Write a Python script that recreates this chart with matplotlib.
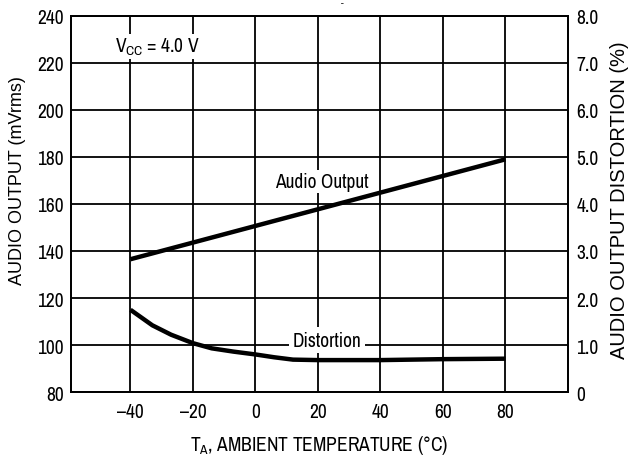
import matplotlib
matplotlib.use("Agg")
import matplotlib.pyplot as plt

FONT = ['Archivo Narrow', 'DejaVu Sans']
plt.rcParams['font.family'] = FONT
plt.rcParams['mathtext.fontset'] = 'custom'
plt.rcParams['mathtext.rm'] = 'Archivo Narrow'
plt.rcParams['mathtext.it'] = 'Archivo Narrow'
plt.rcParams['mathtext.default'] = 'rm'
LABEL_FONT = ['Liberation Sans', 'DejaVu Sans']

# Data
temp_audio = [-40, 80]
audio_output = [136.5, 179.0]          # mVrms
temp_dist = [-40, -33, -27, -20, -14, -7, 0, 6, 12, 20, 40, 60, 80]
distortion = [1.75, 1.42, 1.22, 1.04, 0.93, 0.86, 0.80, 0.74, 0.69, 0.68, 0.68, 0.70, 0.71]  # %

x_ticks = [-40, -20, 0, 20, 40, 60, 80]
x_labels = ['\u201340', '\u201320', '0', '20', '40', '60', '80']
left_ticks = [80, 100, 120, 140, 160, 180, 200, 220, 240]
right_ticks = [0, 1, 2, 3, 4, 5, 6, 7, 8]
right_labels = ['0', '1.0', '2.0', '3.0', '4.0', '5.0', '6.0', '7.0', '8.0']

fig = plt.figure(figsize=(6.29, 4.56), dpi=100)
ax = fig.add_axes([0.113, 0.138, 0.790, 0.825])
ax2 = ax.twinx()

ax.set_xlim(-59, 100)
ax.set_ylim(80, 240)
ax2.set_ylim(0, 8)

ax.set_xticks(x_ticks)
ax.set_xticklabels(x_labels)
ax.set_yticks(left_ticks)
ax2.set_yticks(right_ticks)
ax2.set_yticklabels(right_labels)

for a in (ax, ax2):
    a.tick_params(length=0, labelsize=14, pad=5)
    for s in a.spines.values():
        s.set_linewidth(1.3)
        s.set_color('black')
ax.tick_params(axis='x', pad=7)
ax2.tick_params(axis='y', pad=6)

ax.grid(True, color='black', linewidth=1.3)
ax.set_axisbelow(True)

ax.plot(temp_audio, audio_output, color='black', linewidth=3.2, solid_capstyle='butt', zorder=3)
ax2.plot(temp_dist, distortion, color='black', linewidth=3.2, solid_capstyle='butt', zorder=3)

ax.set_ylabel('AUDIO OUTPUT (mVrms)', fontsize=13, family=LABEL_FONT, ha='center', va='center')
ax.yaxis.set_label_coords(-0.107, 0.564)
ax2.set_ylabel('AUDIO OUTPUT DISTORTION (%)', fontsize=14.5, family=LABEL_FONT, ha='center', va='center')
ax2.yaxis.set_label_coords(1.103, 0.513)
ax.set_xlabel('T$_A$, AMBIENT TEMPERATURE (\u00b0C)', fontsize=14, labelpad=9)

bbox = dict(facecolor='white', edgecolor='none', pad=1.5)
ax.text(-44.8, 224.7, 'V$_{CC}$ = 4.0 V', fontsize=14, ha='left', va='baseline', bbox=bbox, zorder=4)
ax.text(21.1, 167.2, 'Audio Output', fontsize=14, ha='center', va='baseline', bbox=bbox, zorder=4)
ax.text(23, 99.6, 'Distortion', fontsize=14, ha='center', va='baseline',
        bbox=dict(facecolor='white', edgecolor='none', pad=2.5), zorder=4)

fig.text(342 / 629, 1 - 4 / 456, '-', fontsize=7, ha='center', va='center')

fig.savefig('out.png', dpi=100)
